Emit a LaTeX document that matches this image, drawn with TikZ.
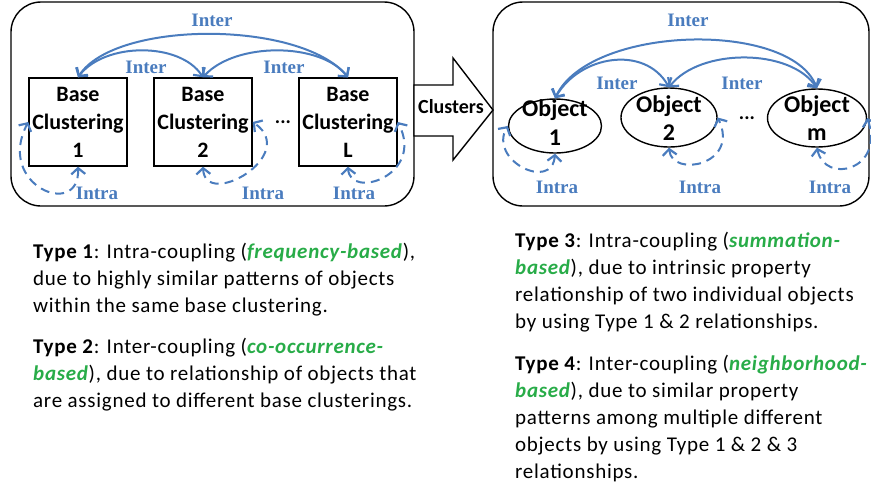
\documentclass[tikz,border=0pt]{standalone}
\usepackage{fontspec}
\setmainfont{Carlito}
\newfontfamily\bodyfont[LetterSpace=3.5]{Carlito}
\newfontfamily\relfont{Liberation Serif}
\usetikzlibrary{arrows.meta,shapes.geometric}
\definecolor{linkblue}{RGB}{74,124,190}
\definecolor{kindgreen}{RGB}{40,172,72}
\newcommand{\kind}[1]{\textcolor{kindgreen}{\textbf{\textit{#1}}}}
\tikzset{barb/.tip={Straight Barb[length=6pt,width=14pt,line width=2.2pt]}}
\begin{document}
\begin{tikzpicture}[x=1pt,y=-1pt,
  frame/.style={draw=black,line width=1.4pt,rounded corners=30pt},
  bcbox/.style={draw=black,line width=1.4pt,minimum width=98pt,minimum height=88pt,
    inner sep=0pt,align=center,font=\fontsize{22}{28}\selectfont\bfseries},
  objshape/.style={draw=black,ellipse,line width=1.4pt,inner sep=0pt},
  objtext/.style={inner sep=0pt,align=center,font=\fontsize{24}{28.5}\selectfont\bfseries},
  inter/.style={draw=linkblue,line width=2pt,arrows={barb-barb}},
  intra/.style={draw=linkblue,line width=2pt,arrows={barb-barb},dash pattern=on 9pt off 6pt},
  rel/.style={text=linkblue,inner sep=0pt,font=\relfont\fontsize{19}{19}\selectfont\bfseries},
  body/.style={anchor=base west,inner sep=0pt,font=\bodyfont\fontsize{21}{27}\selectfont},
  dots/.style={inner sep=0pt,font=\fontsize{20}{20}\selectfont\bfseries}]
\useasboundingbox (0,0) rectangle (871,491);

% the two outer panels
\draw[frame] (11,2) rectangle (414,206);
\draw[frame] (493,2) rectangle (869,206);

% block arrow between the panels
\draw[line width=1.4pt,fill=white] (414,85) -- (453,85) -- (453,58) -- (493,110)
  -- (453,160) -- (453,136) -- (414,136) -- cycle;
\node[inner sep=0pt,font=\fontsize{20}{20}\selectfont\bfseries] (cl) at (451,107) {Clusters};

% base clusterings
\node[bcbox] (b1) at (78,122) {Base\\Clustering\\1};
\node[bcbox] (b2) at (203,122) {Base\\Clustering\\2};
\node[bcbox] (bL) at (348,122) {Base\\Clustering\\L};
\node[dots] (d1) at (283,122) {...};

% objects
\node[objshape,minimum width=93pt,minimum height=54pt] (o1) at (555,126) {};
\node[objshape,minimum width=96pt,minimum height=59pt] (o2) at (669,117.5) {};
\node[objshape,minimum width=99pt,minimum height=58pt] (om) at (817,118) {};
\node[objtext] (o1t) at (555,122.5) {Object\\1};
\node[objtext] (o2t) at (669,118) {Object\\2};
\node[objtext] (omt) at (817,118) {Object\\m};
\node[dots] (d2) at (747,118) {...};

% inter-coupling arcs, left panel
\draw[inter] (b1.north) .. controls (115,20) and (300,20) .. (bL.north);
\draw[inter] (b1.north) .. controls (105,42) and (180,42) .. (b2.north);
\draw[inter] (b2.north) .. controls (235,42) and (320,42) .. (bL.north);
\node[rel] (il0) at (212,20) {Inter};
\node[rel] (il1) at (146,67) {Inter};
\node[rel] (il2) at (284,67) {Inter};

% intra-coupling loops, left panel
\draw[intra] (b1.south) .. controls (80,220) and (-5,185) .. (b1.west);
\draw[intra] (b2.south) .. controls (205,210) and (300,155) .. (b2.east);
\draw[intra] (bL.south) .. controls (350,200) and (425,175) .. (bL.east);
\node[rel] (al1) at (97,193) {Intra};
\node[rel] (al2) at (263,193) {Intra};
\node[rel] (alL) at (354,193) {Intra};

% inter-coupling arcs, right panel
\draw[inter] (o1.north) .. controls (590,25) and (790,20) .. (om.north);
\draw[inter] (o1.north) .. controls (580,55) and (645,45) .. (o2.north);
\draw[inter] (o2.north) .. controls (700,48) and (790,48) .. (om.north);
\node[rel] (ir0) at (688,20) {Inter};
\node[rel] (ir1) at (617,83) {Inter};
\node[rel] (ir2) at (742,83) {Inter};

% intra-coupling loops, right panel
\draw[intra] (o1.south) .. controls (552,192) and (488,160) .. (o1.west);
\draw[intra] (o2.south) .. controls (672,178) and (740,165) .. (o2.east);
\draw[intra] (om.south) .. controls (825,185) and (885,170) .. (om.east);
\node[rel] (ar1) at (557,187) {Intra};
\node[rel] (ar2) at (700,187) {Intra};
\node[rel] (arm) at (830,187) {Intra};

% descriptions of the four coupling types
\node[body] (t1a) at (33,258) {\textbf{Type 1}: Intra-coupling (\kind{frequency-based}),};
\node[body] (t1b) at (33,285) {due to highly similar patterns of objects};
\node[body] (t1c) at (33,312) {within the same base clustering.};
\node[body] (t2a) at (33,353) {\textbf{Type 2}: Inter-coupling (\kind{co-occurrence-}};
\node[body] (t2b) at (33,380) {\kind{based}), due to relationship of objects that};
\node[body] (t2c) at (33,407) {are assigned to different base clusterings.};

\node[body] (t3a) at (515,247) {\textbf{Type 3}: Intra-coupling (\kind{summation-}};
\node[body] (t3b) at (515,274) {\kind{based}), due to intrinsic property};
\node[body] (t3c) at (515,301) {relationship of two individual objects};
\node[body] (t3d) at (515,328) {by using Type 1 \& 2 relationships.};
\node[body] (t4a) at (515,370) {\textbf{Type 4}: Inter-coupling (\kind{neighborhood-}};
\node[body] (t4b) at (515,397) {\kind{based}), due to similar property};
\node[body] (t4c) at (515,424) {patterns among multiple different};
\node[body] (t4d) at (515,451) {objects by using Type 1 \& 2 \& 3};
\node[body] (t4e) at (515,478) {relationships.};
\end{tikzpicture}
\end{document}
